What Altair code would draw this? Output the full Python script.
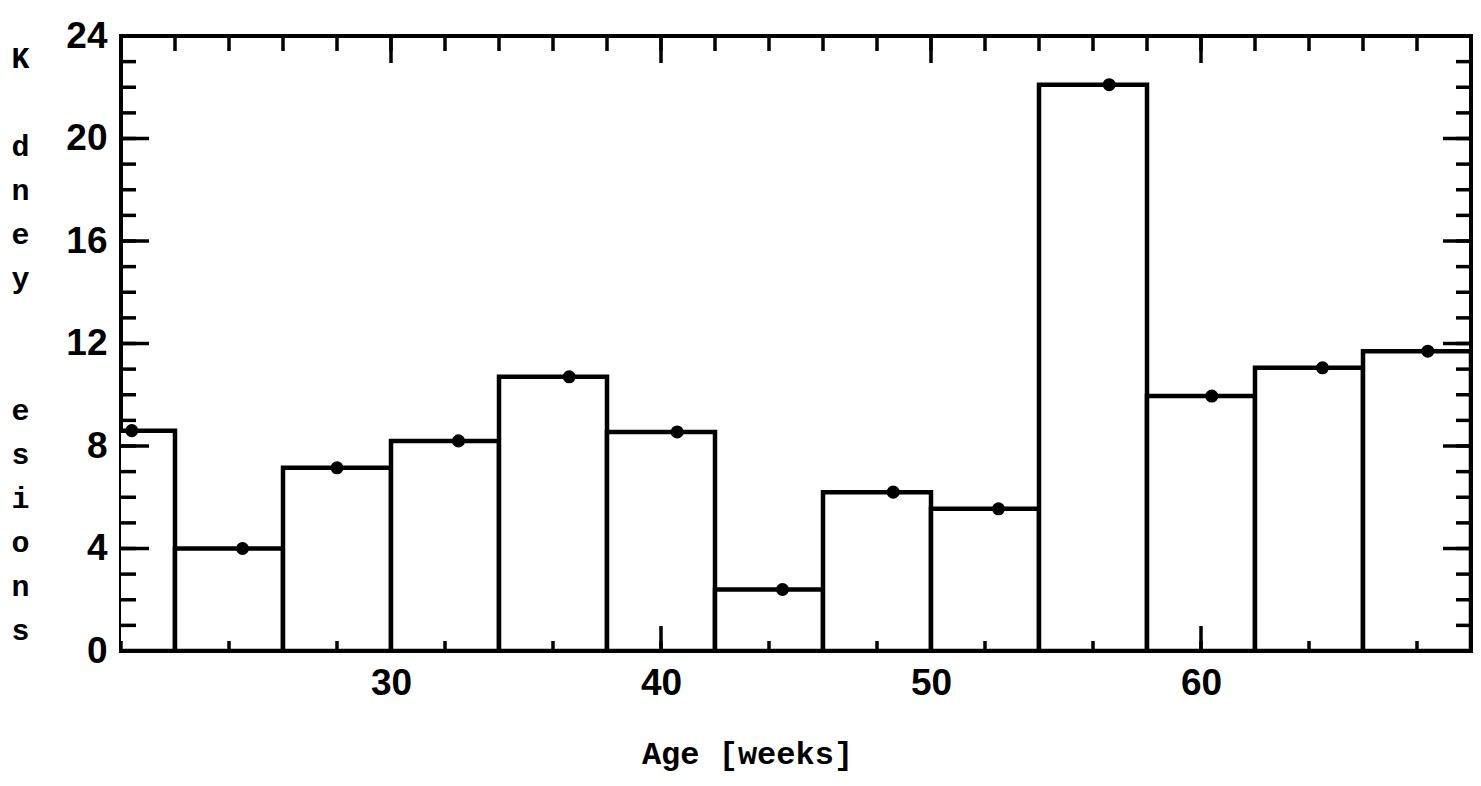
import altair as alt
import pandas as pd

# ---- data ----
bin_start = [18, 22, 26, 30, 34, 38, 42, 46, 50, 54, 58, 62, 66]
bin_end = [22, 26, 30, 34, 38, 42, 46, 50, 54, 58, 62, 66, 70]
lesions = [8.6, 4.0, 7.15, 8.2, 10.7, 8.55, 2.4, 6.2, 5.55, 22.1, 9.95, 11.05, 11.7]
mean_age = [20.4, 24.5, 28.0, 32.5, 36.6, 40.6, 44.5, 48.6, 52.5, 56.6, 60.4, 64.5, 68.4]

x_label_values = [30, 40, 50, 60]
y_label_values = [0, 4, 8, 12, 16, 20, 24]
x_minor_ticks = [20, 22, 24, 26, 28, 30, 32, 34, 36, 38, 40, 42, 44, 46, 48, 50,
                 52, 54, 56, 58, 60, 62, 64, 66, 68, 70]
x_major_ticks = [30, 40, 50, 60]
y_minor_ticks = [0, 1, 2, 3, 4, 5, 6, 7, 8, 9, 10, 11, 12, 13, 14, 15, 16, 17,
                 18, 19, 20, 21, 22, 23, 24]
y_major_ticks = [4, 8, 12, 16, 20]

BL = "\u2800"  # blank line placeholder
x_title = "Age [weeks]"
y_title = ["K", BL, "d", "n", "e", "y", BL, BL, "e", "s", "i", "o", "n", "s"]

W, H = 1350, 615

df = pd.DataFrame({"start": bin_start, "end": bin_end, "v": lesions,
                   "age": mean_age, "zero": [0] * len(lesions)})

xs = alt.Scale(domain=[20, 70], nice=False, zero=False)
ys = alt.Scale(domain=[0, 24], nice=False, zero=False)

x_axis = alt.Axis(values=x_label_values, ticks=False, tickSize=0, domain=False, grid=False,
                  labelFont="Liberation Sans", labelFontSize=37, labelFontWeight="bold",
                  labelColor="black", labelPadding=14, labelFlush=False,
                  title=x_title, titleFont="Liberation Mono", titleFontSize=32,
                  titleFontWeight="bold", titleColor="black",
                  titleX=626, titleY=112, titleAlign="center", titleBaseline="alphabetic")
y_axis = alt.Axis(values=y_label_values, ticks=False, tickSize=0, domain=False, grid=False,
                  labelFont="Liberation Sans", labelFontSize=37, labelFontWeight="bold",
                  labelColor="black", labelPadding=14, labelFlush=False,
                  title=y_title, titleFont="Liberation Mono", titleFontSize=30,
                  titleFontWeight="bold", titleColor="black", titleAngle=0,
                  titleX=-101, titleY=22, titleAlign="center", titleBaseline="middle",
                  titleLineHeight=44)

bars = alt.Chart(df).mark_rect(fill="white", stroke="black", strokeWidth=4.5,
                               strokeJoin="miter", clip=True).encode(
    x=alt.X("start:Q", scale=xs, axis=x_axis),
    x2="end:Q",
    y=alt.Y("v:Q", scale=ys, axis=y_axis),
    y2="zero:Q",
)

dots = alt.Chart(df).mark_circle(size=170, color="black", opacity=1).encode(
    x=alt.X("age:Q", scale=xs, axis=x_axis),
    y=alt.Y("v:Q", scale=ys, axis=y_axis),
)

def ytick(vals, x0, x1):
    return alt.Chart(pd.DataFrame({"t": vals})).mark_rule(
        color="black", strokeWidth=3.5).encode(
        y=alt.Y("t:Q", scale=ys, axis=y_axis),
        x=alt.value(x0), x2=alt.value(x1))

def xtick(vals, y0, y1):
    return alt.Chart(pd.DataFrame({"t": vals})).mark_rule(
        color="black", strokeWidth=3.5).encode(
        x=alt.X("t:Q", scale=xs, axis=x_axis),
        y=alt.value(y0), y2=alt.value(y1))

ticks = [
    ytick(y_minor_ticks, 0, 15), ytick(y_major_ticks, 0, 28),
    ytick(y_minor_ticks, W - 15, W), ytick(y_major_ticks, W - 28, W),
    xtick(x_minor_ticks, 0, 15), xtick(x_major_ticks, 0, 27),
    xtick(x_minor_ticks, H - 10, H), xtick(x_major_ticks, H - 25, H),
]

chart = alt.layer(bars, *ticks, dots).properties(
    width=W, height=H,
    padding={"left": 113, "top": 28, "right": 2, "bottom": 124},
    autosize=alt.AutoSizeParams(type="none"),
    background="white",
).configure_view(stroke="black", strokeWidth=4)

chart.save("out.html", embed_options={"renderer": "svg", "actions": False})
